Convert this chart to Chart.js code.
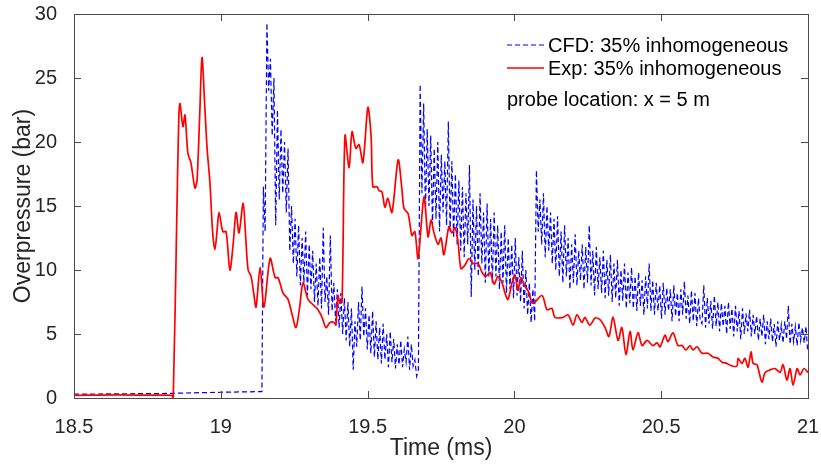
<!DOCTYPE html>
<html>
<head>
<meta charset="utf-8">
<script src="https://cdn.jsdelivr.net/npm/chart.js@4.4.1/dist/chart.umd.min.js"></script>
<style>
  html, body { margin: 0; padding: 0; background: #fff; }
</style>
</head>
<body>
<canvas id="chart" width="821" height="464"></canvas>
<script>
// tick values
const xTicks = [18.5, 19, 19.5, 20, 20.5, 21];
const yTicks = [0, 5, 10, 15, 20, 25, 30];

// Exp: 35% inhomogeneous  (time ms / overpressure bar)
const expTime = [
  18.500, 18.650, 18.780, 18.833, 18.838, 18.850, 18.857, 18.861, 18.871, 18.878,
  18.888, 18.898, 18.912, 18.919, 18.928, 18.936, 18.945, 18.953, 18.963, 18.972,
  18.980, 18.987, 18.994, 19.007, 19.018, 19.031, 19.042, 19.052, 19.062, 19.076,
  19.085, 19.093, 19.103, 19.112, 19.120, 19.134, 19.147, 19.168, 19.185, 19.195,
  19.212, 19.229, 19.243, 19.256, 19.268, 19.280, 19.297, 19.314, 19.331, 19.345,
  19.358, 19.372, 19.386, 19.392, 19.399, 19.406, 19.413, 19.423, 19.437, 19.447,
  19.460, 19.471, 19.484, 19.501, 19.512, 19.518, 19.532, 19.539, 19.549, 19.559,
  19.569, 19.583, 19.604, 19.617, 19.624, 19.638, 19.651, 19.661, 19.672, 19.692,
  19.706, 19.716, 19.726, 19.740, 19.750, 19.760, 19.777, 19.787, 19.798, 19.808,
  19.818, 19.832, 19.845, 19.859, 19.876, 19.890, 19.903, 19.917, 19.931, 19.944,
  19.958, 19.968, 19.978, 19.992, 20.002, 20.012, 20.022, 20.036, 20.046, 20.063,
  20.094, 20.111, 20.128, 20.138, 20.166, 20.183, 20.200, 20.213, 20.230, 20.240,
  20.257, 20.275, 20.292, 20.309, 20.322, 20.336, 20.353, 20.366, 20.380, 20.394,
  20.404, 20.421, 20.435, 20.452, 20.472, 20.486, 20.496, 20.513, 20.523, 20.540,
  20.557, 20.571, 20.584, 20.598, 20.608, 20.622, 20.639, 20.659, 20.676, 20.693,
  20.707, 20.724, 20.741, 20.758, 20.762, 20.775, 20.785, 20.796, 20.806, 20.813,
  20.826, 20.843, 20.854, 20.871, 20.888, 20.905, 20.915, 20.928, 20.939, 20.949,
  20.963, 20.973, 20.986, 21.000
];
const expValue = [
  0.20, 0.25, 0.22, 0.20, 0.00, 14.0, 22.0, 23.0, 21.2, 22.1,
  19.1, 18.4, 16.4, 17.0, 22.0, 26.6, 23.0, 19.6, 16.8, 13.0,
  11.6, 13.0, 14.5, 13.0, 13.0, 10.0, 12.0, 14.5, 12.9, 15.2,
  12.5, 10.0, 9.5, 8.2, 7.1, 10.2, 7.1, 10.9, 9.4, 9.4,
  8.2, 7.7, 6.5, 5.5, 7.0, 9.0, 7.7, 7.3, 6.9, 6.3,
  5.5, 5.9, 5.9, 5.7, 8.0, 7.4, 7.5, 20.5, 18.0, 20.8,
  19.5, 19.8, 18.4, 22.7, 20.4, 16.5, 16.5, 16.2, 16.1, 14.9,
  15.6, 14.5, 18.6, 16.3, 14.8, 14.4, 12.7, 13.0, 10.9, 15.7,
  12.6, 13.9, 12.9, 12.0, 12.5, 11.2, 13.4, 12.9, 13.3, 12.2,
  10.1, 10.4, 10.9, 10.5, 10.5, 9.8, 9.5, 9.8, 8.9, 9.5,
  9.0, 8.2, 7.7, 9.0, 9.6, 8.4, 9.4, 8.7, 8.4, 7.4,
  8.0, 6.9, 7.0, 6.3, 6.3, 6.5, 5.7, 6.5, 5.9, 6.3,
  5.7, 6.25, 6.1, 5.5, 4.8, 6.3, 4.5, 5.5, 3.4, 5.2,
  3.75, 5.1, 4.1, 4.5, 4.1, 4.3, 4.0, 4.9, 4.4, 5.1,
  4.1, 4.1, 3.75, 4.1, 3.75, 4.0, 3.5, 3.5, 3.2, 3.1,
  2.8, 2.7, 2.5, 2.5, 3.1, 2.7, 3.1, 2.4, 3.6, 2.7,
  2.6, 1.25, 2.0, 2.2, 2.3, 2.0, 2.6, 1.4, 2.3, 1.0,
  2.3, 1.8, 2.3, 2.0
];

// CFD: 35% inhomogeneous, quiet part before the shock
const cfdLeadTime = [18.5, 18.8, 19.0, 19.14];
const cfdLeadValue = [0.3, 0.35, 0.45, 0.5];
// CFD after the shock, sampled every 0.006 ms from 19.145 ms
const cfdStart = 19.145;
const cfdStep = 0.006;
const cfdValue = [
  16.5, 13.0, 29.3, 24.0, 26.5, 20.5, 25.0, 13.5, 22.5, 15.5,
  21.0, 16.0, 20.0, 14.5, 19.5, 11.5, 15.0, 10.5, 14.0, 9.5,
  13.5, 8.8, 12.5, 9.0, 13.0, 8.0, 12.0, 8.5, 11.5, 7.5,
  10.5, 7.2, 11.0, 7.0, 13.3, 7.5, 9.5, 6.5, 12.7, 6.8,
  9.0, 6.0, 8.5, 5.5, 8.2, 5.0, 7.8, 4.5, 7.5, 4.0,
  7.0, 2.2, 6.0, 4.0, 7.5, 4.5, 8.7, 4.8, 7.0, 3.8,
  6.5, 3.5, 6.8, 3.2, 6.0, 3.0, 5.5, 2.7, 5.8, 3.0,
  5.0, 2.4, 5.2, 2.8, 4.6, 2.3, 4.2, 2.6, 4.5, 2.4,
  3.8, 2.8, 4.8, 2.2, 4.2, 2.5, 3.0, 1.7, 2.2, 24.5,
  16.0, 23.0, 14.5, 21.0, 15.0, 20.5, 13.5, 19.5, 14.0, 20.0,
  13.0, 19.0, 14.5, 18.5, 13.5, 21.6, 13.0, 18.5, 12.5, 17.5,
  12.0, 17.0, 11.5, 16.5, 11.0, 16.0, 12.0, 18.2, 7.9, 15.5,
  10.0, 15.0, 9.5, 16.0, 10.5, 14.5, 9.0, 15.2, 9.5, 14.0,
  9.0, 14.5, 9.5, 13.5, 8.5, 13.0, 9.0, 13.5, 8.2, 12.5,
  8.5, 12.0, 7.8, 12.5, 8.0, 11.0, 7.5, 11.5, 7.0, 10.0,
  6.5, 9.0, 5.9, 8.5, 6.0, 17.8, 13.0, 15.5, 12.0, 16.0,
  11.0, 15.0, 11.5, 14.5, 10.5, 14.0, 10.0, 14.2, 9.5, 13.0,
  9.0, 13.5, 9.5, 12.5, 8.5, 12.0, 9.0, 12.8, 8.8, 11.5,
  9.2, 12.0, 8.5, 11.8, 9.0, 13.5, 8.8, 11.5, 8.0, 11.8,
  8.5, 11.0, 8.2, 11.5, 7.8, 10.8, 8.0, 11.2, 7.5, 10.5,
  7.8, 10.8, 7.2, 10.0, 7.6, 10.5, 7.0, 9.8, 7.4, 10.2,
  7.0, 9.5, 6.8, 9.8, 7.2, 9.2, 6.5, 9.5, 7.0, 10.5,
  6.8, 9.2, 6.5, 9.0, 6.8, 8.8, 6.2, 9.0, 6.5, 8.6,
  6.8, 8.5, 6.0, 8.8, 6.4, 8.2, 6.0, 8.5, 6.5, 9.1,
  6.2, 8.0, 5.8, 8.4, 6.0, 8.2, 5.6, 7.8, 6.0, 5.8,
  8.8, 5.5, 7.8, 5.8, 7.6, 5.4, 8.0, 5.6, 7.5, 5.2,
  7.4, 5.6, 7.2, 5.0, 7.5, 5.4, 7.0, 4.8, 7.2, 5.2,
  6.8, 4.6, 7.0, 5.0, 6.6, 5.2, 6.9, 4.8, 6.5, 5.0,
  6.4, 4.5, 6.2, 4.8, 6.5, 4.2, 6.0, 4.6, 6.2, 4.4,
  5.8, 4.0, 6.0, 4.5, 5.7, 4.3, 6.0, 4.6, 7.2, 4.2,
  5.8, 4.4, 5.6, 4.1, 5.9, 4.5, 5.5, 4.3, 5.6, 3.6
];

const probeNote = 'probe location: x = 5 m';

const FONT = "'Liberation Sans', Arial, Helvetica, sans-serif";
const TEXT = '#262626';
const AXIS = '#4a4a4a';

const expPoints = expTime.map((t, i) => ({ x: t, y: expValue[i] }));
const cfdPoints = cfdLeadTime.map((t, i) => ({ x: t, y: cfdLeadValue[i] }))
  .concat(cfdValue.map((v, i) => ({ x: +(cfdStart + i * cfdStep).toFixed(3), y: v })));

// MATLAB-like box with inward ticks, plus the in-axes legend and note
const matlabAxes = {
  id: 'matlabAxes',
  afterDraw(chart) {
    const { ctx, chartArea: a, scales } = chart;
    ctx.save();
    ctx.strokeStyle = AXIS;
    ctx.lineWidth = 1;
    ctx.strokeRect(Math.round(a.left) + 0.5, Math.round(a.top) + 0.5,
      Math.round(a.right - a.left), Math.round(a.bottom - a.top));
    const len = 7;
    ctx.beginPath();
    xTicks.forEach(v => {
      const px = Math.round(scales.x.getPixelForValue(v)) + 0.5;
      ctx.moveTo(px, a.bottom); ctx.lineTo(px, a.bottom - len);
      ctx.moveTo(px, a.top); ctx.lineTo(px, a.top + len);
    });
    yTicks.forEach(v => {
      const py = Math.round(scales.y.getPixelForValue(v)) + 0.5;
      ctx.moveTo(a.left, py); ctx.lineTo(a.left + len, py);
      ctx.moveTo(a.right, py); ctx.lineTo(a.right - len, py);
    });
    ctx.stroke();

    // legend
    const lx = 507, lw = 37;
    ctx.font = '20px ' + FONT;
    ctx.textBaseline = 'middle';
    ctx.fillStyle = '#000';
    const rows = [chart.data.datasets[1], chart.data.datasets[0]];
    rows.forEach((ds, k) => {
      const y = 45 + k * 23;
      ctx.beginPath();
      ctx.strokeStyle = ds.borderColor;
      ctx.lineWidth = ds.borderWidth;
      ctx.setLineDash(ds.borderDash || []);
      ctx.moveTo(lx, y); ctx.lineTo(lx + lw, y);
      ctx.stroke();
      ctx.setLineDash([]);
      ctx.fillText(ds.label, lx + lw + 4, y + 1);
    });
    ctx.fillText(probeNote, lx, 100);
    ctx.restore();
  }
};

new Chart(document.getElementById('chart'), {
  type: 'line',
  data: {
    datasets: [
      {
        label: 'Exp: 35% inhomogeneous',
        data: expPoints,
        borderColor: '#ff0000',
        borderWidth: 1.7,
        pointRadius: 0,
        tension: 0.3,
        order: 0
      },
      {
        label: 'CFD: 35% inhomogeneous',
        data: cfdPoints,
        borderColor: '#0000ff',
        borderWidth: 1.2,
        borderDash: [5, 3],
        pointRadius: 0,
        tension: 0,
        order: 1
      }
    ]
  },
  options: {
    responsive: false,
    animation: false,
    devicePixelRatio: 1,
    parsing: false,
    layout: { padding: { top: 14, right: 13, left: 0, bottom: 0 } },
    plugins: { legend: { display: false }, tooltip: { enabled: false } },
    scales: {
      x: {
        type: 'linear',
        min: 18.5,
        max: 21,
        afterBuildTicks: s => { s.ticks = xTicks.map(v => ({ value: v })); },
        afterFit: s => { s.height = 66; s.paddingLeft = 0; s.paddingRight = 0; },
        grid: { display: false },
        border: { display: false },
        ticks: {
          font: { family: FONT, size: 20 },
          color: TEXT,
          padding: 9,
          maxRotation: 0,
          autoSkip: false,
          callback: v => String(v)
        },
        title: {
          display: true,
          text: 'Time (ms)',
          font: { family: FONT, size: 23 },
          color: TEXT,
          padding: { top: 0, bottom: 2 }
        }
      },
      y: {
        type: 'linear',
        min: 0,
        max: 30,
        afterBuildTicks: s => { s.ticks = yTicks.map(v => ({ value: v })); },
        afterFit: s => { s.width = 74; s.paddingTop = 0; s.paddingBottom = 0; },
        grid: { display: false },
        border: { display: false },
        ticks: {
          font: { family: FONT, size: 20 },
          color: TEXT,
          padding: 9,
          callback: v => String(v)
        },
        title: {
          display: true,
          text: 'Overpressure (bar)',
          font: { family: FONT, size: 23 },
          color: TEXT,
          padding: { top: 10, bottom: 0 }
        }
      }
    }
  },
  plugins: [matlabAxes]
});
</script>
</body>
</html>
